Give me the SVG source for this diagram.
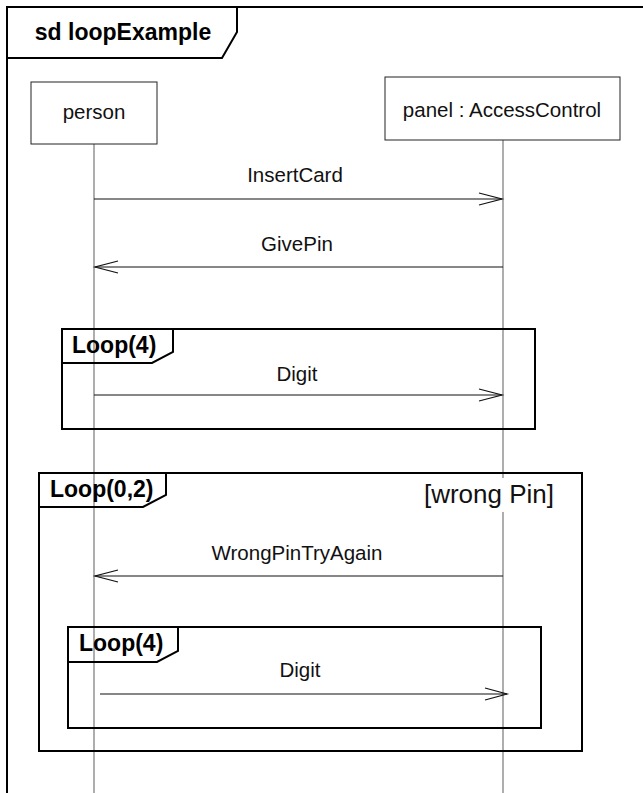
<svg xmlns="http://www.w3.org/2000/svg" width="643" height="793" viewBox="0 0 643 793">
<style>
.frame{fill:none;stroke:#000;stroke-width:2}
.box{fill:#fff;stroke:#222;stroke-width:1}
.life{stroke:#777;stroke-width:1.2}
.msg{stroke:#111;stroke-width:1.2;fill:none}
.head{stroke:#111;stroke-width:1.2;fill:none}
.t{font-family:"Liberation Sans",Arial,sans-serif;font-size:20.5px;fill:#111;text-anchor:middle}
.b{font-family:"Liberation Sans",Arial,sans-serif;font-size:23px;font-weight:bold;fill:#000}
</style>
<rect width="643" height="793" fill="#fff"/>
<g id="frame">
<path class="frame" d="M7,800 V7 H650"/>
<path class="frame" d="M7,58 H222 L237,32 V7"/>
<text class="b" x="123" y="40" text-anchor="middle">sd loopExample</text>
</g>
<g id="lifelines">
<line class="life" x1="94" y1="144" x2="94" y2="793"/>
<line class="life" x1="503" y1="140" x2="503" y2="793"/>
</g>
<g id="person">
<rect class="box" x="31" y="82" width="126" height="62"/>
<text class="t" x="94" y="119">person</text>
</g>
<g id="panel">
<rect class="box" x="385" y="77" width="235" height="63"/>
<text class="t" x="502" y="117">panel : AccessControl</text>
</g>
<g id="loop1">
<rect class="frame" x="62" y="329" width="473" height="100"/>
<path class="frame" d="M62,363 H152 L173,352 V329"/>
<text class="b" x="72" y="353">Loop(4)</text>
</g>
<g id="loop02">
<rect class="frame" x="39" y="473" width="543" height="278"/>
<path class="frame" d="M39,507 H143 L166,495 V473"/>
<text class="b" x="50" y="497">Loop(0,2)</text>
<rect x="420" y="478" width="138" height="34" fill="#fff"/>
<text class="t" x="489" y="503" style="font-size:26px">[wrong Pin]</text>
</g>
<g id="loop2">
<rect class="frame" x="68" y="627" width="473" height="101"/>
<path class="frame" d="M68,662 H157 L178,651 V627"/>
<text class="b" x="79" y="651">Loop(4)</text>
</g>
<g id="connectors">
<line class="msg" x1="94" y1="199" x2="502" y2="199"/>
<path class="head" d="M479,193 L502,199 L479,205"/>
<text class="t" x="295" y="182">InsertCard</text>
<line class="msg" x1="503" y1="267" x2="95" y2="267"/>
<path class="head" d="M118,261 L95,267 L118,273"/>
<text class="t" x="297" y="251">GivePin</text>
<line class="msg" x1="94" y1="395" x2="502" y2="395"/>
<path class="head" d="M479,389 L502,395 L479,401"/>
<text class="t" x="297" y="381">Digit</text>
<line class="msg" x1="503" y1="576" x2="95" y2="576"/>
<path class="head" d="M118,570 L95,576 L118,582"/>
<text class="t" x="297" y="560">WrongPinTryAgain</text>
<line class="msg" x1="100" y1="694" x2="507" y2="694"/>
<path class="head" d="M485,688 L507,694 L485,700"/>
<text class="t" x="300" y="677">Digit</text>
</g>
</svg>
